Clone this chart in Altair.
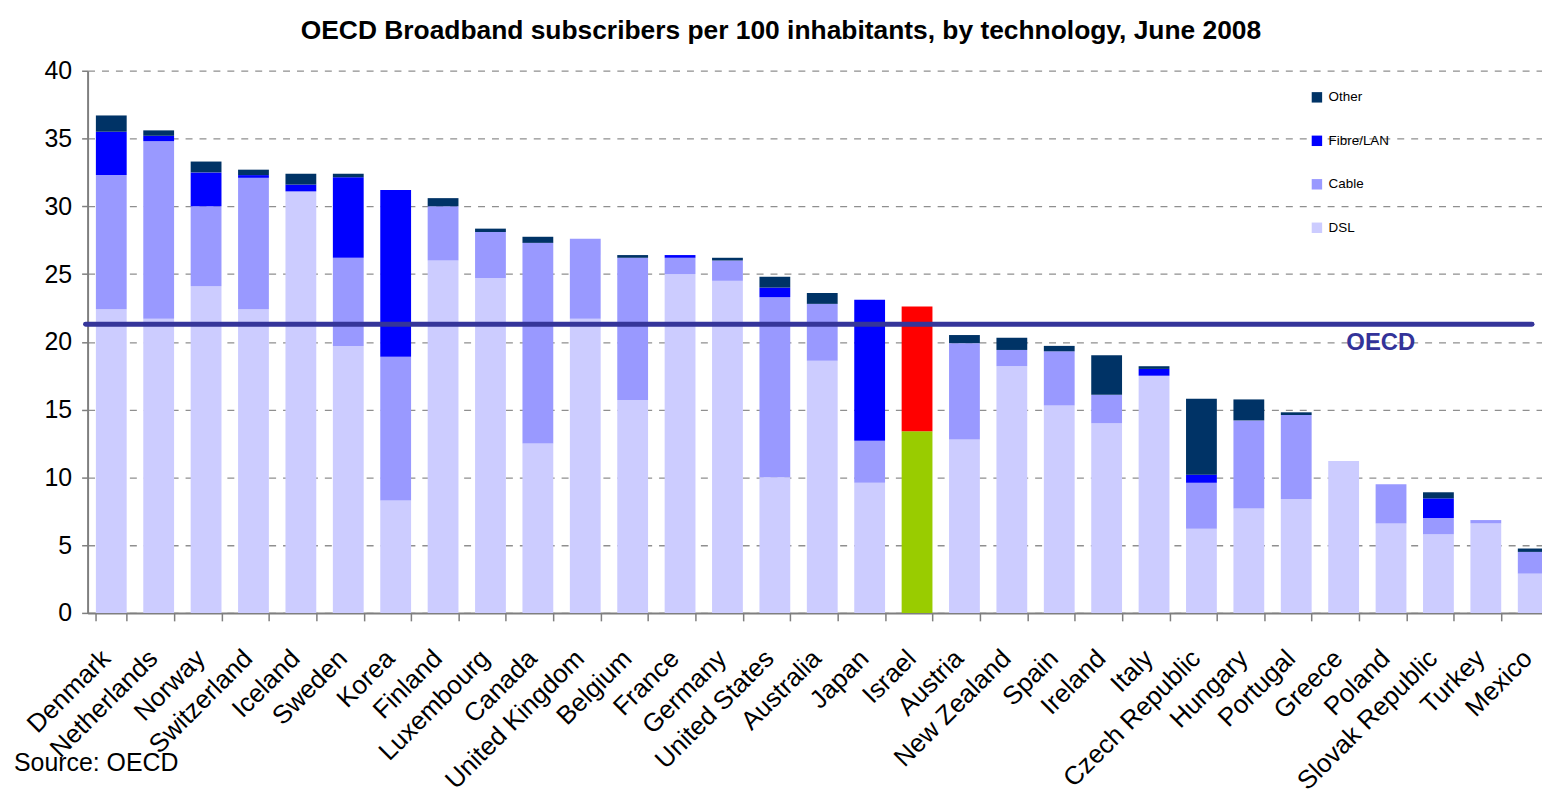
import altair as alt
import pandas as pd

countries = ["Denmark", "Netherlands", "Norway", "Switzerland", "Iceland", "Sweden", "Korea",
             "Finland", "Luxembourg", "Canada", "United Kingdom", "Belgium", "France", "Germany",
             "United States", "Australia", "Japan", "Israel", "Austria", "New Zealand", "Spain",
             "Ireland", "Italy", "Czech Republic", "Hungary", "Portugal", "Greece", "Poland",
             "Slovak Republic", "Turkey", "Mexico"]
dsl = [22.4, 21.7, 24.1, 22.4, 31.1, 19.7, 8.3, 26.0, 24.7, 12.5, 21.7, 15.7, 25.0, 24.5,
       10.0, 18.6, 9.6, 13.4, 12.8, 18.2, 15.3, 14.0, 17.5, 6.2, 7.7, 8.4, 11.2, 6.6, 5.8, 6.6, 2.9]
cable = [9.9, 13.1, 5.9, 9.7, 0.0, 6.5, 10.6, 4.0, 3.4, 14.8, 5.9, 10.5, 1.2, 1.5,
         13.3, 4.2, 3.1, 9.2, 7.1, 1.2, 4.0, 2.1, 0.0, 3.4, 6.5, 6.2, 0.0, 2.9, 1.2, 0.25, 1.6]
fibre = [3.2, 0.4, 2.5, 0.2, 0.5, 5.95, 12.3, 0.0, 0.0, 0.0, 0.0, 0.0, 0.2, 0.0,
         0.7, 0.0, 10.4, 0.0, 0.0, 0.0, 0.0, 0.0, 0.5, 0.6, 0.0, 0.0, 0.0, 0.0, 1.45, 0.0, 0.0]
other = [1.2, 0.4, 0.8, 0.4, 0.8, 0.25, 0.0, 0.6, 0.25, 0.45, 0.0, 0.2, 0.0, 0.2,
         0.8, 0.8, 0.0, 0.0, 0.6, 0.9, 0.4, 2.9, 0.2, 5.6, 1.55, 0.2, 0.0, 0.0, 0.45, 0.0, 0.25]
oecd_average = 21.3
highlight = "Israel"
title_text = "OECD Broadband subscribers per 100 inhabitants, by technology, June 2008"
source_text = "Source: OECD"

techs = ["DSL", "Cable", "Fibre/LAN", "Other"]
legend_order = ["Other", "Fibre/LAN", "Cable", "DSL"]
tech_colors = ["#003366", "#0000FF", "#9999FF", "#CCCCFF"]
highlight_keys = ["Israel DSL", "Israel Cable"]
highlight_colors = ["#99CC00", "#FF0000"]

series = {"DSL": dsl, "Cable": cable, "Fibre/LAN": fibre, "Other": other}
rows = []
for i, c in enumerate(countries):
    for k, t in enumerate(techs):
        v = series[t][i]
        if v <= 0:
            continue
        key = (c + " " + t) if c == highlight else t
        rows.append({"country": c, "tech": t, "value": v, "order": k, "key": key})
df = pd.DataFrame(rows)

FONT = "Liberation Sans"
W, H = 1462, 545
X_RANGE = 1477  # category axis continues past the right edge, as in the original

bars = alt.Chart(df).mark_bar(opacity=1).encode(
    x=alt.X("country:N", sort=countries, title=None,
            scale=alt.Scale(paddingInner=0.35, paddingOuter=0.175, range=[0, X_RANGE]),
            axis=alt.Axis(labelAngle=-45, labelAlign="right", labelBaseline="alphabetic",
                          labelFontSize=26, labelFont=FONT, labelColor="#000000",
                          labelPadding=39, labelOverlap=False, labelLimit=0,
                          tickBand="extent", tickSize=8, tickColor="#7f7f7f", tickWidth=1.5,
                          domainColor="#7f7f7f", domainWidth=2, grid=False)),
    y=alt.Y("value:Q", stack="zero", title=None,
            scale=alt.Scale(domain=[0, 40], nice=False),
            axis=alt.Axis(values=[0, 5, 10, 15, 20, 25, 30, 35, 40], labelFontSize=25,
                          labelFont=FONT, labelColor="#000000", labelPadding=10,
                          tickSize=6, tickColor="#7f7f7f", tickWidth=1.5,
                          domainColor="#7f7f7f", domainWidth=2,
                          grid=True, gridColor="#8f8f8f", gridDash=[7, 7], gridWidth=1.3)),
    color=alt.Color("key:N",
                    scale=alt.Scale(domain=legend_order + highlight_keys,
                                    range=tech_colors + highlight_colors),
                    legend=alt.Legend(values=legend_order, title=None, orient="none",
                                      legendX=1229, legendY=20, symbolType="square",
                                      symbolSize=110, symbolStrokeWidth=0, symbolOpacity=1,
                                      labelFontSize=13.5, labelFont=FONT, labelColor="#000000",
                                      labelOffset=5, rowPadding=28.7, padding=0)),
    order=alt.Order("order:Q", sort="ascending"),
)

avg_df = pd.DataFrame({"v": [oecd_average], "label": ["OECD"]})
rule = alt.Chart(avg_df).mark_rule(color="#35359a", strokeWidth=5, strokeCap="round").encode(
    y=alt.Y("v:Q"), x=alt.value(-2), x2=alt.value(1452))
rule_text = alt.Chart(avg_df).mark_text(color="#333399", fontSize=24, fontWeight="bold",
                                        font=FONT, align="center", baseline="middle", dy=19).encode(
    y=alt.Y("v:Q"), x=alt.value(1300), text="label:N")

src_df = pd.DataFrame({"t": [source_text]})
source = alt.Chart(src_df).mark_text(fontSize=25, font=FONT, align="left",
                                     baseline="alphabetic", color="#000000").encode(
    x=alt.value(-74), y=alt.value(704), text="t:N")

title_df = pd.DataFrame({"t": [title_text]})
title = alt.Chart(title_df).mark_text(fontSize=26.5, font=FONT, fontWeight="bold", align="center",
                                      baseline="alphabetic", color="#000000").encode(
    x=alt.value(697), y=alt.value(-32), text="t:N")

chart = alt.layer(bars, rule, rule_text, source, title).properties(
    width=W, height=H,
    autosize=alt.AutoSizeParams(type="none"),
    padding={"left": 80, "top": 61, "right": 0, "bottom": 183},
).configure_view(stroke=None)

chart.save("out.html", embed_options={"renderer": "svg", "actions": False})
